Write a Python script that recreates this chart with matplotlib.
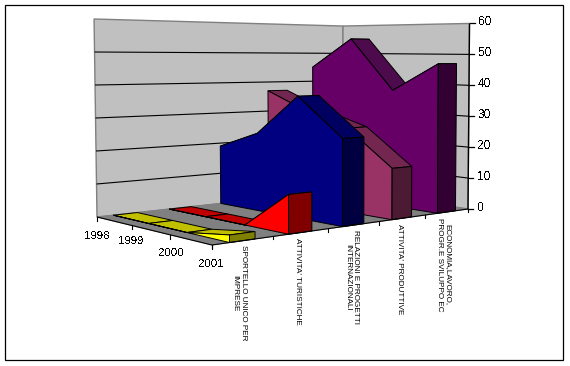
import numpy as np
import matplotlib
matplotlib.use("Agg")
import matplotlib.pyplot as plt
from matplotlib.patches import Polygon, Rectangle

plt.rcParams["font.family"] = ["Liberation Sans", "DejaVu Sans"]

# ---------------- DATA ----------------
years = ["1998", "1999", "2000", "2001"]
series_labels = ["SPORTELLO UNICO PER\nIMPRESE",
                 "ATTIVITA' TURISTICHE",
                 "RELAZIONI E PROGETTI\nINTERNAZIONALI",
                 "ATTIVITA' PRODUTTIVE",
                 "ECONOMIA,LAVORO,\nPROGR.E SVILUPPO EC"]
sportello  = [0, 0, 0, 2]
turistiche = [0, 0, 0, 11]
relazioni  = [19, 24.5, 37, 25.5]
produttive = [37, 31, 26.5, 15.5]
economia   = [45, 55, 38, 47]
values = [sportello, turistiche, relazioni, produttive, economia]
value_ticks = [0, 10, 20, 30, 40, 50, 60]

# front, top, side colour of each ribbon
front_col = ["#FFFF00", "#FF0000", "#000080", "#993366", "#660066"]
top_col   = ["#C0C000", "#C00000", "#000060", "#732650", "#4D0A4D"]
side_col  = ["#808000", "#800000", "#000040", "#4D1A33", "#330033"]
# ribbon extent inside its category slot
SLOT_FRONT = 0.28
SLOT_BACK = 0.70

# ---------------- PROJECTION ----------------
# floor corners on screen: (u, s) = (0,0) (1,0) (1,1) (0,1)
A, B, C, D = [np.array(p, float) for p in [(97, 217), (212, 245), (468, 209), (343, 190)]]
d1, d2, d3 = B - C, D - C, A - B + C - D
den = d1[0] * d2[1] - d2[0] * d1[1]
g = (d3[0] * d2[1] - d2[0] * d3[1]) / den
h = (d1[0] * d3[1] - d3[0] * d1[1]) / den
K0 = 3.3


def proj(u, s, v=0.0):
    w = g * u + h * s + 1
    x = ((B[0] - A[0] + g * B[0]) * u + (D[0] - A[0] + h * D[0]) * s + A[0]) / w
    y = ((B[1] - A[1] + g * B[1]) * u + (D[1] - A[1] + h * D[1]) * s + A[1]) / w
    return x + (x - 343) * v / 60 * 0.012, y - v * K0 / w


fig = plt.figure(figsize=(5.7, 3.66), dpi=100)
ax = fig.add_axes([0, 0, 1, 1])
ax.set_xlim(0, 570)
ax.set_ylim(366, 0)
ax.axis("off")


# everything on one zorder, so drawing follows the order of the calls
def poly(pts, fc, ec="black", lw=0.7):
    ax.add_patch(Polygon(pts, closed=True, facecolor=fc, edgecolor=ec, linewidth=lw, zorder=1))


def line(p, q, color="black", lw=0.8):
    ax.plot([p[0], q[0]], [p[1], q[1]], color=color, lw=lw, solid_capstyle="butt", zorder=1)


ax.add_patch(Rectangle((5, 5), 558, 355, fill=False, edgecolor="black", linewidth=0.9))

# walls and floor
poly([proj(0, 0), proj(0, 1), proj(0, 1, 60), proj(0, 0, 60)], "#C0C0C0", ec="#808080", lw=1.0)
poly([proj(0, 1), proj(1, 1), proj(1, 1, 60), proj(0, 1, 60)], "#C0C0C0", ec="#808080", lw=1.0)
poly([proj(0, 0), proj(1, 0), proj(1, 1), proj(0, 1)], "#808080", ec="#808080")
for t in value_ticks[1:-1]:
    line(proj(0, 0, t), proj(0, 1, t))
    line(proj(0, 1, t), proj(1, 1, t))

# ribbons, far to near
n_years = len(years)
n_series = len(values)
us = np.linspace(0, 1, n_years)
for j in range(n_series - 1, -1, -1):
    vals = values[j]
    s0 = (j + SLOT_FRONT) / n_series
    s1 = (j + SLOT_BACK) / n_series
    for i in range(n_years - 1):
        poly([proj(us[i], s0, vals[i]), proj(us[i], s1, vals[i]),
              proj(us[i + 1], s1, vals[i + 1]), proj(us[i + 1], s0, vals[i + 1])], top_col[j])
    pts = [proj(u, s0, v) for u, v in zip(us, vals)] + [proj(1, s0), proj(0, s0)]
    poly(pts, front_col[j])
    poly([proj(1, s0), proj(1, s1), proj(1, s1, vals[-1]), proj(1, s0, vals[-1])], side_col[j])

# axes
line(proj(0, 0), proj(1, 0))
line(proj(1, 0), proj(1, 1))
line(proj(1, 1), proj(1, 1, 60), lw=1.0)
for t in value_ticks:
    x, y = proj(1, 1, t)
    ax.plot([x, x + 5], [y, y], color="black", lw=0.9)
    ax.text(x + 9, y - 1, str(t), fontsize=8.6, ha="left", va="center", antialiased=False)
for u, lab, dx, dy in zip(us, years, [0, -1, 1, -1], [19, 16, 18, 19]):
    x, y = proj(u, 0)
    ax.plot([x, x], [y, y + 4], color="black", lw=0.8)
    ax.text(x + dx, y + dy, lab, fontsize=8.2, ha="center", va="center", antialiased=False)
for k in range(n_series + 1):
    x, y = proj(1, k / n_series)
    ax.plot([x, x], [y, y + 3], color="black", lw=0.8)

label_x = [239, 297, 351.5, 400, 444]
label_top = [245, 238, 230, 224, 218]
for lab, x, y in zip(series_labels, label_x, label_top):
    ax.text(x, y, lab, fontsize=5.9, rotation=270, ha="center", va="top",
            multialignment="center", linespacing=1.25)

fig.savefig("out.png", dpi=100, facecolor="white")
